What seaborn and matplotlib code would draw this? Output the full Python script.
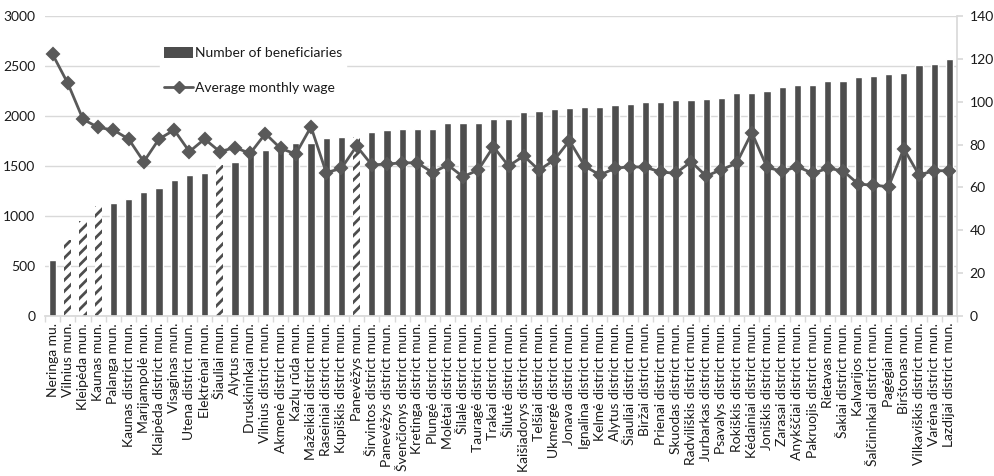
import matplotlib
matplotlib.use('Agg')
import matplotlib.pyplot as plt
import seaborn as sns
import pandas as pd
from matplotlib.patches import Patch
from matplotlib.lines import Line2D

municipalities = [
    "Neringa mu.", "Vilnius mun.", "Kleipėda mun.", "Kaunas mun.", "Palanga mun.",
    "Kaunas district mun.", "Marijampolė mun.", "Klaipėda district mun.", "Visaginas mun.",
    "Utena district mun.", "Elektrėnai mun.", "Šiauliai mun.", "Alytus mun.",
    "Druskininkai mun.", "Vilnius district mun.", "Akmenė district mun.", "Kazlų rūda mun.",
    "Mažeikiai district mun.", "Raseiniai district mun.", "Kupiškis district mun.",
    "Panevėžys mun.", "Širvintos district mun.", "Panevėžys district mun.",
    "Švenčionys district mun.", "Kretinga district mun.", "Plungė district mun.",
    "Molėtai district mun.", "Šilalė district mun.", "Tauragė district mun.",
    "Trakai district mun.", "Šilutė district mun.", "Kaišiadorys district mun.",
    "Telšiai district mun.", "Ukmergė district mun.", "Jonava district mun.",
    "Ignalina district mun.", "Kelmė district mun.", "Alytus district mun.",
    "Šiauliai district mun.", "Biržai district mun.", "Prienai district mun.",
    "Skuodas district mun.", "Radviliškis district mun.", "Jurbarkas district mun.",
    "Psavalys district mun.", "Rokiškis district mun.", "Kėdainiai district mun.",
    "Joniškis district mun.", "Zarasai district mun.", "Anykščiai district mun.",
    "Pakruojis district mun.", "Rietavas mun.", "Šakiai district mun.", "Kalvarijos mun.",
    "Šalčininkai district mun.", "Pagėgiai mun.", "Birštonas mun.",
    "Vilkaviškis district mun.", "Varėna district mun.", "Lazdijai district mun.",
]

beneficiaries = [
    560, 762, 950, 1105, 1130, 1170, 1238, 1278, 1360, 1412,
    1428, 1508, 1536, 1615, 1658, 1695, 1726, 1726, 1778, 1792,
    1790, 1836, 1860, 1872, 1872, 1872, 1930, 1930, 1930, 1966,
    1966, 2037, 2050, 2067, 2077, 2090, 2090, 2107, 2120, 2143,
    2143, 2157, 2160, 2173, 2183, 2227, 2227, 2253, 2293, 2307,
    2307, 2347, 2347, 2387, 2400, 2417, 2430, 2513, 2523, 2567,
]

avg_wage = [
    122.1, 108.6, 91.8, 88.0, 86.8, 82.6, 72.0, 82.6, 86.8, 76.7,
    82.6, 76.7, 78.6, 75.9, 85.1, 78.2, 75.6, 88.3, 66.9, 68.9,
    79.3, 70.5, 70.9, 71.5, 71.5, 66.9, 70.5, 65.0, 68.1, 79.0,
    70.0, 74.7, 68.1, 72.8, 81.8, 70.0, 65.8, 68.9, 69.7, 69.4,
    67.2, 66.6, 72.0, 65.3, 68.3, 71.3, 85.6, 69.4, 67.5, 69.7,
    66.6, 68.9, 67.8, 61.6, 61.0, 60.4, 78.1, 65.8, 67.8, 67.8,
]

hatched_units = ["Vilnius mun.", "Kleipėda mun.", "Kaunas mun.", "Šiauliai mun.", "Panevėžys mun."]

left_ticks = [0, 500, 1000, 1500, 2000, 2500, 3000]
right_ticks = [0, 20, 40, 60, 80, 100, 120, 140]
series_labels = ["Number of beneficiaries", "Average monthly wage"]

BAR = '#4d4d4d'
LINE = '#595959'
GRID = '#d9d9d9'
TXT = '#1a1a1a'

sns.set_theme(style='white')
plt.rcParams['font.family'] = ['Lato', 'DejaVu Sans']
plt.rcParams['hatch.linewidth'] = 2.0

W, H = 995, 476
fig = plt.figure(figsize=(W / 100, H / 100), dpi=100)
ax = fig.add_axes([45 / W, 1 - 316 / H, (957 - 45) / W, 300 / H])

df = pd.DataFrame({"Municipality": municipalities,
                   "Beneficiaries": beneficiaries,
                   "Wage": avg_wage})

sns.barplot(data=df, x="Municipality", y="Beneficiaries", color=BAR,
            saturation=1, width=0.47, ax=ax)
for patch, name in zip(ax.patches, municipalities):
    if name in hatched_units:
        patch.set_facecolor('white')
        patch.set_hatch('///')
        patch.set_edgecolor(BAR)
        patch.set_linewidth(0)

ax2 = ax.twinx()
sns.pointplot(data=df, x="Municipality", y="Wage", color=LINE, markers='D',
              linestyles='-', errorbar=None, ax=ax2, markersize=6.5, linewidth=2)

n = len(municipalities)
for a in (ax, ax2):
    a.set_xlim(-0.5, n - 0.5)
    a.set_xlabel('')
    a.set_ylabel('')

ax.set_ylim(0, 3000)
ax.set_yticks(left_ticks)
ax.set_yticklabels([str(t) for t in left_ticks])
ax2.set_ylim(0, 140)
ax2.set_yticks(right_ticks)
ax2.set_yticklabels([str(t) for t in right_ticks])

ax.yaxis.grid(True, color=GRID, lw=1)
ax.xaxis.grid(False)
ax.set_axisbelow(True)
ax2.grid(False)

for s in ('top', 'left', 'right'):
    ax.spines[s].set_visible(False)
ax.spines['bottom'].set_color(GRID)
for s in ('top', 'left', 'bottom'):
    ax2.spines[s].set_visible(False)
ax2.spines['right'].set_color(GRID)

ax.set_xticks(range(n))
ax.set_xticklabels(municipalities, rotation=90, fontsize=10, color=TXT)
ax.set_xticks([i - 0.5 for i in range(n + 1)], minor=True)
ax.tick_params(axis='x', which='major', length=0, pad=5)
ax.tick_params(axis='x', which='minor', length=4, color=GRID, width=1, bottom=True)
ax.tick_params(axis='y', length=0, pad=7, labelsize=10, labelcolor=TXT)
ax2.tick_params(axis='y', length=4, color=GRID, pad=5, labelsize=10, labelcolor=TXT, right=True)

handles = [Patch(facecolor=BAR, edgecolor='none'),
           Line2D([], [], color=LINE, marker='D', lw=2, ms=6.5)]
leg = ax2.legend(handles, series_labels, loc='upper left',
                 bbox_to_anchor=(160 / W, 1 - 43 / H), bbox_transform=fig.transFigure,
                 frameon=True, fancybox=False, framealpha=1, facecolor='white',
                 edgecolor='white', fontsize=10, handlelength=2.1, handleheight=0.8,
                 handletextpad=0.1, labelspacing=1.65, borderpad=0.3, borderaxespad=0)
for t in leg.get_texts():
    t.set_color(TXT)

fig.savefig('out.png', dpi=100)
